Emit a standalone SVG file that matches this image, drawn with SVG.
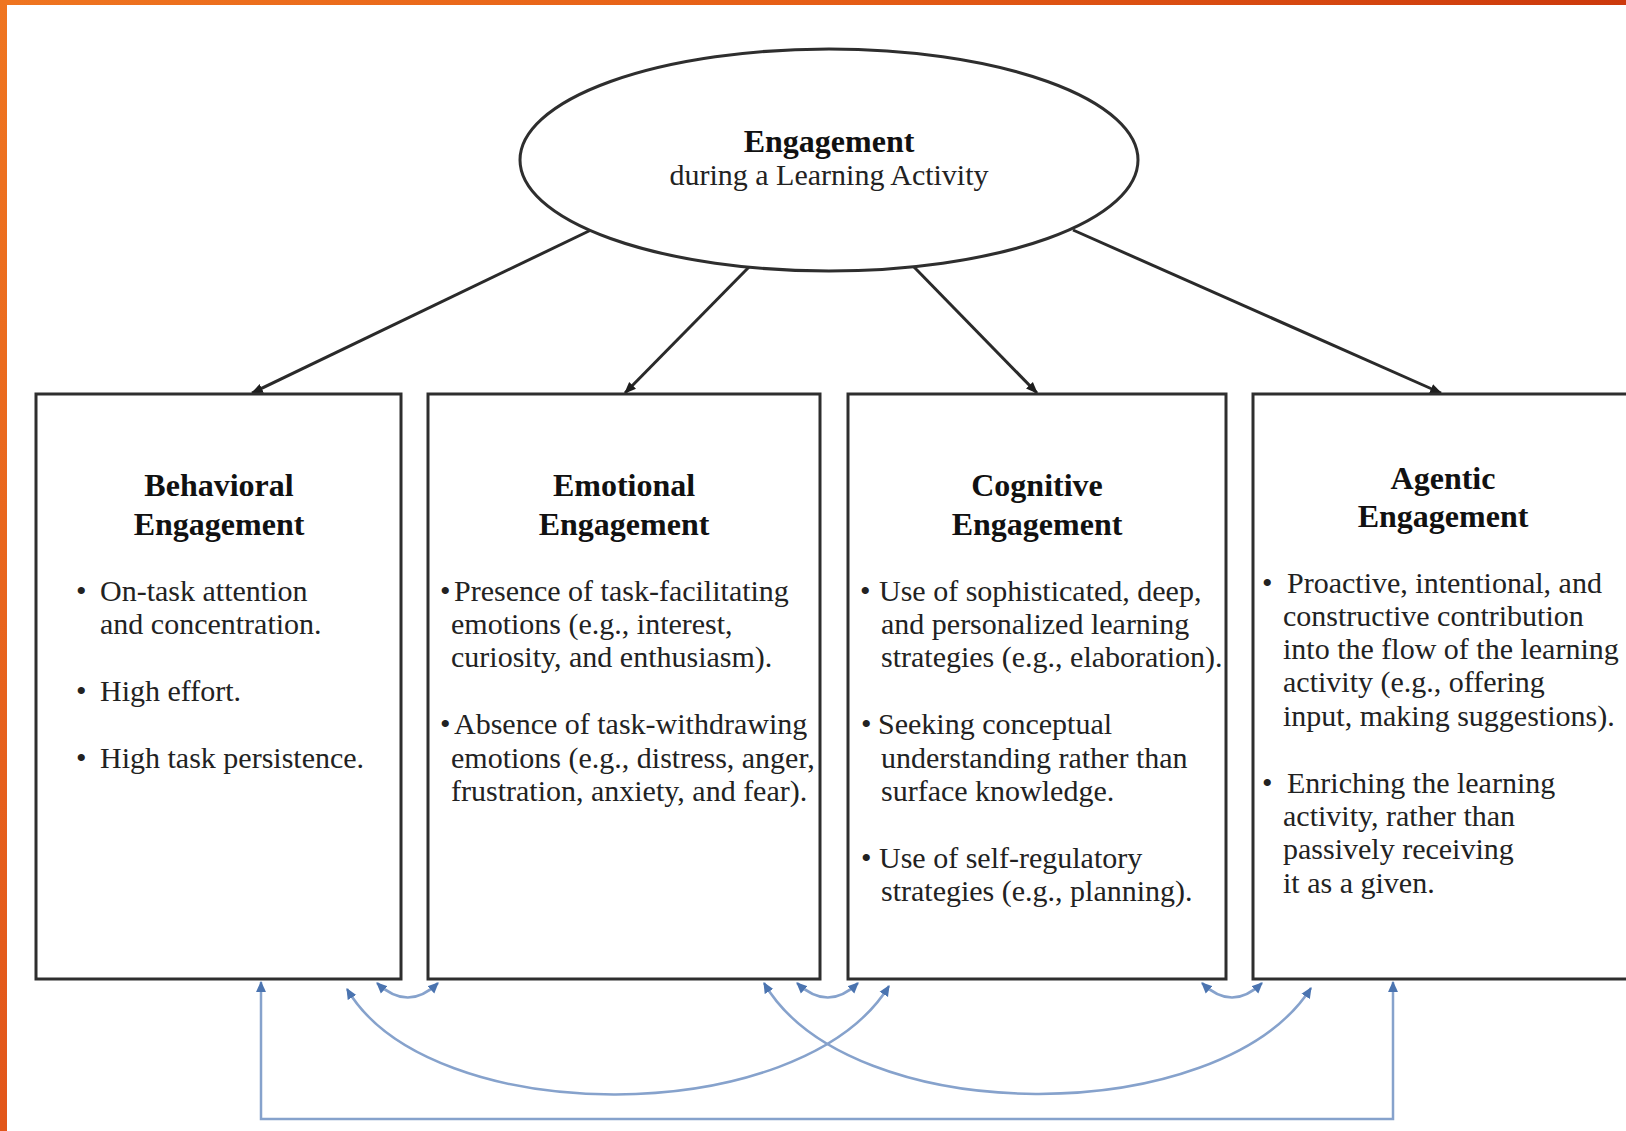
<svg xmlns="http://www.w3.org/2000/svg" width="1626" height="1131" viewBox="0 0 1626 1131">
  <defs>
    <linearGradient id="topbar" x1="0" y1="0" x2="1" y2="0">
      <stop offset="0" stop-color="#ef7520"/>
      <stop offset="0.5" stop-color="#e65e16"/>
      <stop offset="1" stop-color="#cc390c"/>
    </linearGradient>
    <linearGradient id="leftbar" x1="0" y1="0" x2="0" y2="1">
      <stop offset="0" stop-color="#ef7520"/>
      <stop offset="1" stop-color="#e2561a"/>
    </linearGradient>
    <marker id="blk" viewBox="0 0 10 10" refX="9" refY="5" markerWidth="12" markerHeight="12" markerUnits="userSpaceOnUse" orient="auto">
      <path d="M0,1 L10,5 L0,9 z" fill="#1e1e1e"/>
    </marker>
    <marker id="blu" viewBox="0 0 10 10" refX="9" refY="5" markerWidth="11" markerHeight="11" markerUnits="userSpaceOnUse" orient="auto-start-reverse">
      <path d="M0,0.5 L10,5 L0,9.5 z" fill="#4b74b0"/>
    </marker>
    <style>
      .box { fill: #ffffff; stroke: #2e2e2e; stroke-width: 3; }
      .ell { fill: #ffffff; stroke: #2e2e2e; stroke-width: 3; }
      .title { font-family: "Liberation Serif", "Times New Roman", serif; font-weight: bold; font-size: 32px; fill: #111; text-anchor: middle; }
      .sub { font-family: "Liberation Serif", "Times New Roman", serif; font-size: 30px; fill: #222; text-anchor: middle; }
      .item { font-family: "Liberation Serif", "Times New Roman", serif; font-size: 30px; fill: #222; }
      .arr { fill: none; stroke: #2a2a2a; stroke-width: 3; marker-end: url(#blk); }
      .rel { fill: none; stroke: #86a2cc; stroke-width: 2.5; marker-start: url(#blu); marker-end: url(#blu); }
    </style>
  </defs>

  <rect x="0" y="0" width="1626" height="1131" fill="#ffffff"/>
  <rect x="0" y="0" width="1626" height="5" fill="url(#topbar)"/>
  <rect x="0" y="0" width="7" height="1131" fill="url(#leftbar)"/>

  <g id="connectors">
    <line class="arr" x1="591" y1="230" x2="252" y2="393"/>
    <line class="arr" x1="749" y1="267" x2="625" y2="393"/>
    <line class="arr" x1="914" y1="267" x2="1037" y2="393"/>
    <line class="arr" x1="1073" y1="230" x2="1441" y2="393"/>

    <path class="rel" d="M377,983 Q408,1012 438,983"/>
    <path class="rel" d="M797,983 Q828,1012 858,983"/>
    <path class="rel" d="M1202,983 Q1232,1012 1262,983"/>
    <path class="rel" d="M347,989 C430,1130 800,1130 889,986"/>
    <path class="rel" d="M764,983 C850,1130 1220,1130 1311,988"/>
    <path class="rel" d="M261,982 L261,1119 L1393,1119 L1393,982"/>
  </g>

  <g id="engagement">
    <ellipse class="ell" cx="829" cy="160" rx="309" ry="111"/>
    <text class="title" x="829" y="152">Engagement</text>
    <text class="sub" x="829" y="185">during a Learning Activity</text>
  </g>

  <g id="behavioral">
    <rect class="box" x="36" y="394" width="365" height="585"/>
    <text class="title" x="219" y="496">Behavioral</text>
    <text class="title" x="219" y="535">Engagement</text>
    <text class="item" x="76" y="601">•</text>
    <text class="item" x="100" y="601">On-task attention</text>
    <text class="item" x="100" y="634">and concentration.</text>
    <text class="item" x="76" y="701">•</text>
    <text class="item" x="100" y="701">High effort.</text>
    <text class="item" x="76" y="768">•</text>
    <text class="item" x="100" y="768">High task persistence.</text>
  </g>

  <g id="emotional">
    <rect class="box" x="428" y="394" width="392" height="585"/>
    <text class="title" x="624" y="496">Emotional</text>
    <text class="title" x="624" y="535">Engagement</text>
    <text class="item" x="440" y="601" font-size="22">•</text>
    <text class="item" x="454" y="601">Presence of task-facilitating</text>
    <text class="item" x="451" y="634">emotions (e.g., interest,</text>
    <text class="item" x="451" y="667">curiosity, and enthusiasm).</text>
    <text class="item" x="440" y="734" font-size="22">•</text>
    <text class="item" x="454" y="734">Absence of task-withdrawing</text>
    <text class="item" x="451" y="768">emotions (e.g., distress, anger,</text>
    <text class="item" x="451" y="801">frustration, anxiety, and fear).</text>
  </g>

  <g id="cognitive">
    <rect class="box" x="848" y="394" width="378" height="585"/>
    <text class="title" x="1037" y="496">Cognitive</text>
    <text class="title" x="1037" y="535">Engagement</text>
    <text class="item" x="860" y="601">•</text>
    <text class="item" x="879" y="601">Use of sophisticated, deep,</text>
    <text class="item" x="881" y="634">and personalized learning</text>
    <text class="item" x="881" y="667">strategies (e.g., elaboration).</text>
    <text class="item" x="861" y="734" font-size="22">•</text>
    <text class="item" x="878" y="734">Seeking conceptual</text>
    <text class="item" x="881" y="768">understanding rather than</text>
    <text class="item" x="881" y="801">surface knowledge.</text>
    <text class="item" x="861" y="868" font-size="22">•</text>
    <text class="item" x="879" y="868">Use of self-regulatory</text>
    <text class="item" x="881" y="901">strategies (e.g., planning).</text>
  </g>

  <g id="agentic">
    <rect class="box" x="1253" y="394" width="400" height="585"/>
    <text class="title" x="1443" y="489">Agentic</text>
    <text class="title" x="1443" y="527">Engagement</text>
    <text class="item" x="1262" y="593">•</text>
    <text class="item" x="1287" y="593">Proactive, intentional, and</text>
    <text class="item" x="1283" y="626">constructive contribution</text>
    <text class="item" x="1283" y="659">into the flow of the learning</text>
    <text class="item" x="1283" y="692">activity (e.g., offering</text>
    <text class="item" x="1283" y="726">input, making suggestions).</text>
    <text class="item" x="1262" y="793">•</text>
    <text class="item" x="1287" y="793">Enriching the learning</text>
    <text class="item" x="1283" y="826">activity, rather than</text>
    <text class="item" x="1283" y="859">passively receiving</text>
    <text class="item" x="1283" y="893">it as a given.</text>
  </g>
</svg>
